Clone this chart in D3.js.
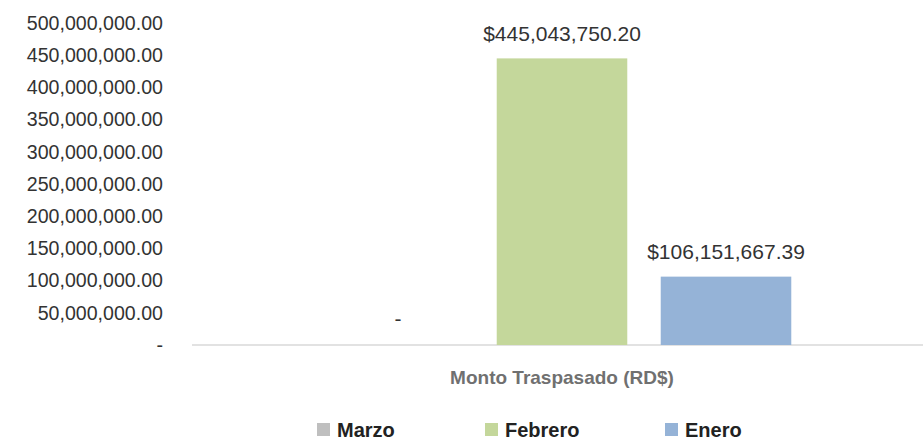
<!DOCTYPE html>
<html>
<head>
<meta charset="utf-8">
<script src="https://cdn.jsdelivr.net/npm/d3@7"></script>
<style>
  body { margin: 0; background: #fff; }
  text { font-family: "Liberation Sans", Arial, sans-serif; }
</style>
</head>
<body>
<svg width="923" height="446"></svg>
<script>
const category = "Monto Traspasado (RD$)";
const series = ["Marzo", "Febrero", "Enero"];
const values = [0, 445043750.20, 106151667.39];
const colors = ["#BFBFBF", "#C4D79B", "#95B3D7"];
const yTicks = [0, 50e6, 100e6, 150e6, 200e6, 250e6, 300e6, 350e6, 400e6, 450e6, 500e6];

const svg = d3.select("svg");
const width = +svg.attr("width");

// scales
const y = d3.scaleLinear().domain([0, 500e6]).range([345, 23]);
const x0 = d3.scaleBand().domain([category]).range([192, 932]).paddingOuter(0.252);
const x1 = d3.scaleBand().domain(series)
    .range([x0(category), x0(category) + x0.bandwidth()])
    .paddingInner(0.204).paddingOuter(0.102);

const fmt = d3.format(",.2f");

// y tick labels
svg.append("g")
    .selectAll("text")
    .data(yTicks)
    .join("text")
    .attr("x", 163)
    .attr("y", d => y(d))
    .attr("dy", "0.35em")
    .attr("text-anchor", "end")
    .attr("font-size", "19.6px")
    .attr("fill", "#333")
    .text(d => d === 0 ? "-" : fmt(d));

// baseline
svg.append("line")
    .attr("x1", 192).attr("x2", width)
    .attr("y1", y(0)).attr("y2", y(0))
    .attr("stroke", "#d9d9d9")
    .attr("stroke-width", 1.5);

// bars
const data = series.map((s, i) => ({ name: s, value: values[i], color: colors[i] }));

svg.append("g")
    .selectAll("rect")
    .data(data)
    .join("rect")
    .attr("x", d => x1(d.name))
    .attr("y", d => y(d.value))
    .attr("width", x1.bandwidth())
    .attr("height", d => y(0) - y(d.value))
    .attr("fill", d => d.color);

// data labels
svg.append("g")
    .selectAll("text")
    .data(data)
    .join("text")
    .attr("x", d => x1(d.name) + x1.bandwidth() / 2)
    .attr("y", d => d.value === 0 ? y(0) - 26 : y(d.value) - 25)
    .attr("dy", "0.35em")
    .attr("text-anchor", "middle")
    .attr("font-size", "21px")
    .attr("fill", "#333")
    .text(d => d.value === 0 ? "-" : "$" + fmt(d.value));

// category label
svg.append("text")
    .attr("x", x0(category) + x0.bandwidth() / 2)
    .attr("y", 377)
    .attr("dy", "0.35em")
    .attr("text-anchor", "middle")
    .attr("font-size", "19px")
    .attr("font-weight", "bold")
    .attr("fill", "#707070")
    .text(category);

// legend
const legendX = [337, 505, 685];
const legend = svg.append("g")
    .selectAll("g")
    .data(data)
    .join("g")
    .attr("transform", (d, i) => `translate(${legendX[i]},430)`);

legend.append("rect")
    .attr("x", -20).attr("y", -7)
    .attr("width", 13).attr("height", 13)
    .attr("fill", d => d.color);

legend.append("text")
    .attr("dy", "0.35em")
    .attr("font-size", "20px")
    .attr("font-weight", "bold")
    .attr("fill", "#222")
    .text(d => d.name);
</script>
</body>
</html>
